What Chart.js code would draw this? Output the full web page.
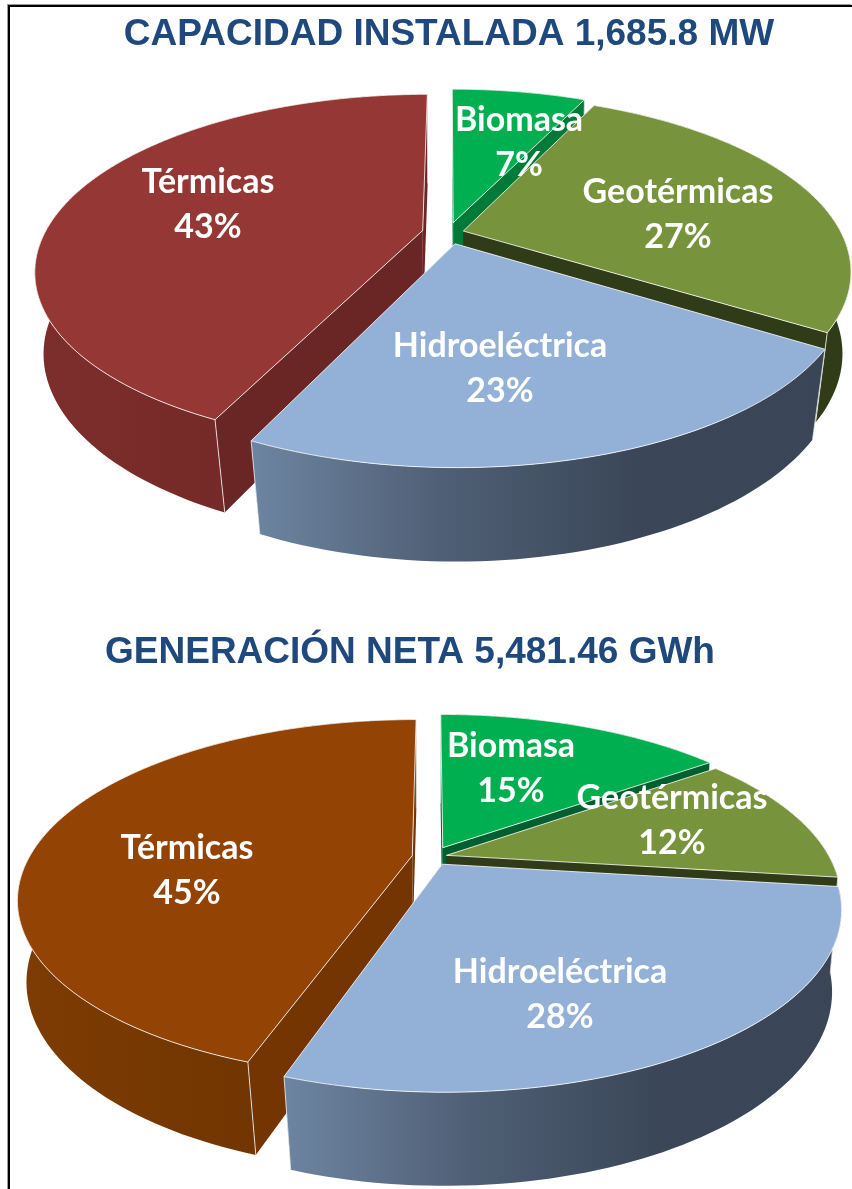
<!DOCTYPE html>
<html><head><meta charset="utf-8">
<style>
html,body{margin:0;padding:0;background:#fff;width:852px;height:1189px;overflow:hidden}
#frame{position:absolute;left:8px;top:5px;right:0;bottom:-5px;border-left:2px solid #000;border-top:2px solid #000;box-shadow:-1px -1px 0 #999}
.w{position:absolute;left:0;width:852px}
canvas{display:block;filter:blur(.5px)}
</style>
<script src="https://cdn.jsdelivr.net/npm/chart.js@4/dist/chart.umd.min.js"></script>
</head><body>
<div id="frame"></div>
<div class="w" style="top:0;height:600px"><canvas id="c1" width="852" height="600"></canvas></div>
<div class="w" style="top:600px;height:589px"><canvas id="c2" width="852" height="589"></canvas></div>
<script>
const categories = ['Biomasa','Geotérmicas','Hidroeléctrica','Térmicas'];
const capacidadValues = [7,27,23,43];
const generacionValues = [15,12,28.2,44.8];
const capacidadTitle = 'CAPACIDAD INSTALADA 1,685.8 MW';
const generacionTitle = 'GENERACIÓN NETA 5,481.46 GWh';
const capacidadColors = ['#00b050','#77933c','#93b0d6','#953735'];
const generacionColors = ['#00b050','#77933c','#93b0d6','#934405'];

const pie3d = {
  id:'pie3d',
  beforeDatasetsDraw(chart,args,o){
    const ctx=chart.ctx, meta=chart.getDatasetMeta(0);
    const TAU=Math.PI*2;
    const world=(el,th,r)=>{
      const mid=(el.startAngle+el.endAngle)/2+Math.PI/2, off=el.options.offset||0;
      return [r*Math.sin(th)+off*Math.sin(mid), -r*Math.cos(th)-off*Math.cos(mid)];
    };
    const top=(el,th,r)=>{
      const [X,Y]=world(el,th,r), s=1/(1-o.k*Y/el.outerRadius);
      return [o.cx+X*s, o.cy+Y*o.b*s];
    };
    const bot=(el,th,r)=>{
      const p=top(el,th,r), Y=world(el,th,r)[1]/el.outerRadius, f=Math.max(0,Y);
      const sx=.985-.03*f;
      return [o.cx+(p[0]-o.cx)*sx, o.cy+(p[1]-o.cy)*o.sy+o.depth*(.85+.15*f)];
    };
    const poly=pts=>{ctx.beginPath();pts.forEach((p,i)=>i?ctx.lineTo(p[0],p[1]):ctx.moveTo(p[0],p[1]));ctx.closePath();};
    const order=meta.data.map((el,i)=>({el,i,y:-Math.cos((el.startAngle+el.endAngle)/2+Math.PI/2)})).sort((a,b)=>a.y-b.y);
    ctx.save();
    ctx.lineJoin='round';
    for(const {el,i} of order){
      const a0=el.startAngle+Math.PI/2, a1=el.endAngle+Math.PI/2, R=el.outerRadius;
      const n=Math.max(8,Math.ceil((a1-a0)/TAU*240));
      const arc=[];for(let j=0;j<=n;j++)arc.push(a0+(a1-a0)*j/n);
      const rimT=arc.map(t=>top(el,t,R)), rimB=arc.map(t=>bot(el,t,R));
      const wc=o.walls[i];
      // radial cut walls
      for(const t of [a0,a1]){
        poly([top(el,t,0),top(el,t,R),bot(el,t,R),bot(el,t,0)]);
        ctx.fillStyle=wc.cut;ctx.fill();
      }
      // outer wall
      poly(rimT.concat(rimB.slice().reverse()));
      const xs=rimT.map(p=>p[0]),minX=Math.min(...xs),maxX=Math.max(...xs);
      const g=ctx.createLinearGradient(minX,0,maxX,0);
      wc.stops.forEach((c,j)=>g.addColorStop(wc.stops.length>1?j/(wc.stops.length-1):0,c));
      ctx.fillStyle=g;ctx.fill();
      // vertical corner highlights
      ctx.strokeStyle='rgba(255,255,255,.75)';ctx.lineWidth=1;
      for(const k of [0,n]){ctx.beginPath();ctx.moveTo(rimT[k][0],rimT[k][1]);ctx.lineTo(rimB[k][0],rimB[k][1]);ctx.stroke();}
      // top face
      poly([top(el,a0,0)].concat(rimT));
      ctx.fillStyle=el.options.backgroundColor;ctx.fill();
      ctx.strokeStyle='rgba(255,255,255,.8)';ctx.lineWidth=1;ctx.stroke();
    }
    // data labels
    ctx.fillStyle='#fff';ctx.textAlign='center';ctx.textBaseline='middle';
    ctx.font=o.labelFont;
    const ds=chart.data.datasets[0];
    chart.data.labels.forEach((l,i)=>{
      const p=o.labelAt[i];
      ctx.fillText(l,p[0],p[1]);
      ctx.fillText(Math.round(ds.data[i])+'%',p[0],p[1]+45);
    });
    ctx.restore();
    return false;
  }
};

function make(id,values,colors,title,offsets,radius,view,padding){
  return new Chart(document.getElementById(id),{
    type:'pie',
    data:{labels:categories,datasets:[{data:values,backgroundColor:colors,offset:offsets,borderWidth:0,radius:radius}]},
    options:{
      responsive:false,animation:false,events:[],
      layout:{padding},
      plugins:{
        legend:{display:false},tooltip:{enabled:false},
        title:{display:true,text:title,color:'#1f497d',font:{family:'"Liberation Sans"',weight:'bold',size:37},padding:view.titlePad},
        pie3d:view
      }
    },
    plugins:[pie3d]
  });
}
const labelFont='700 34px Lato';
make('c1',capacidadValues,capacidadColors,capacidadTitle,[24,16,25,26],378,{
  cx:448,cy:233,k:.225,b:.444,sy:.97,depth:100,labelFont,titlePad:{top:13,bottom:4},
  labelAt:[[519,120],[678,192],[500,346],[208,182]],
  walls:[{cut:'#007a38',stops:['#007a38']},{cut:'#303b18',stops:['#303b18','#303b18']},
         {cut:'#3c4859',stops:['#6d85a1','#4f5f75','#3b4759','#3a4656']},
         {cut:'#6a2624',stops:['#7d2e2c','#6b2624']}]
},{left:46});
make('c2',generacionValues,generacionColors,generacionTitle,[24,15,19,20],383,{
  cx:432,cy:257,k:.24,b:.442,sy:.97,depth:100,labelFont,titlePad:{top:31,bottom:4},
  labelAt:[[511,146],[672,198],[560,372],[187,248]],
  walls:[{cut:'#005f2e',stops:['#005f2e']},{cut:'#303b18',stops:['#303b18','#303b18']},
         {cut:'#3c4859',stops:['#6d85a1','#4f5f75','#3b4759','#3a4656']},
         {cut:'#743502',stops:['#7d3c02','#6a3102']}]
},{right:32});
</script>
</body></html>
